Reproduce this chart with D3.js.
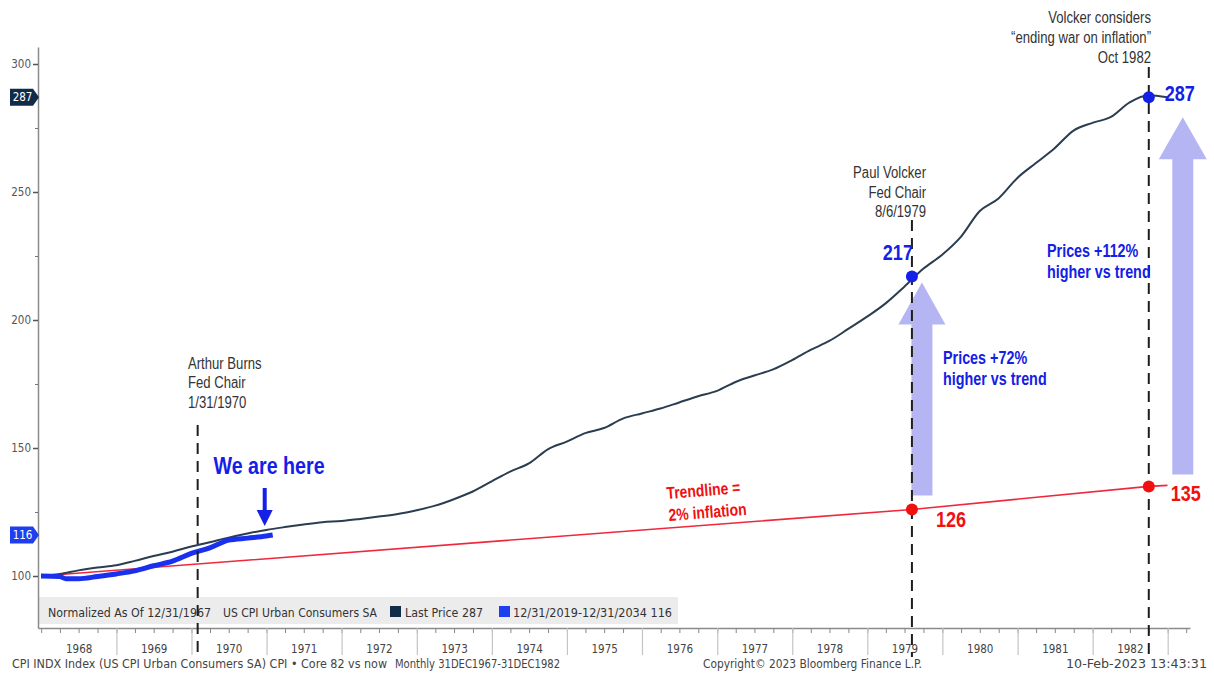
<!DOCTYPE html>
<html>
<head>
<meta charset="utf-8">
<script src="https://cdn.jsdelivr.net/npm/d3@7"></script>
<style>
  html, body { margin: 0; padding: 0; background: #fff; }
  svg { display: block; }
</style>
</head>
<body>
<svg id="chart" width="1214" height="673"></svg>
<script>
// US CPI Urban Consumers SA, normalized to 100 at 12/31/1967 (quarter-end readings)
const cpiDates = [
  "1967-12","1968-03","1968-06","1968-09","1968-12","1969-03","1969-06","1969-09","1969-12",
  "1970-03","1970-06","1970-09","1970-12","1971-03","1971-06","1971-09","1971-12",
  "1972-03","1972-06","1972-09","1972-12","1973-03","1973-06","1973-09","1973-12",
  "1974-03","1974-06","1974-09","1974-12","1975-03","1975-06","1975-09","1975-12",
  "1976-03","1976-06","1976-09","1976-12","1977-03","1977-06","1977-09","1977-12",
  "1978-03","1978-06","1978-09","1978-12","1979-03","1979-06","1979-09","1979-12",
  "1980-03","1980-06","1980-09","1980-12","1981-03","1981-06","1981-09","1981-12",
  "1982-03","1982-06","1982-09","1982-12"
];
const cpiValues = [
  100.0, 100.8, 102.2, 103.3, 104.2, 105.9, 107.8, 109.5, 111.5,
  113.2, 115.0, 116.6, 118.0, 119.1, 120.1, 121.0, 121.5,
  122.3, 123.2, 124.2, 125.7, 127.5, 130.0, 133.0, 137.0,
  140.8, 144.0, 149.5, 152.5, 155.8, 157.8, 161.5, 163.5,
  165.4, 167.8, 170.2, 172.3, 175.8, 178.3, 180.7, 184.3,
  188.3, 191.8, 196.5, 201.3, 206.5, 213.0, 220.0, 225.5,
  232.5, 242.5, 247.5, 255.5, 261.3, 267.1, 274.0, 277.0,
  279.3, 285.0, 287.8, 287.0
];

// Same index 12/31/2019 onward, normalized to 100 at 12/31/2019 (months elapsed)
const recentMonths = [0, 3, 4, 6, 9, 12, 15, 18, 21, 24, 27, 30, 33, 36, 37];
const recentValues = [100, 99.8, 98.9, 98.9, 99.8, 100.8, 102.0, 104.0, 105.8, 108.8, 111.0, 114.0, 114.8, 115.6, 116.0];

// 2% inflation trendline anchors
const trendDates = ["1967-12-31", "1979-08-06", "1982-10-01", "1982-12-31"];
const trendValues = [100, 126, 135, 135.4];

// Marked events
const eventDates = ["1970-01-31", "1979-08-06", "1982-10-01"];
const priceMarkValues = [217, 287];   // CPI at Volcker appointment / Oct 1982
const trendMarkValues = [126, 135];   // trend at the same dates

const yTicks = [100, 150, 200, 250, 300];
const yMinorTicks = [125, 175, 225, 275];
const yearLabels = ["1968","1969","1970","1971","1972","1973","1974","1975",
                    "1976","1977","1978","1979","1980","1981","1982"];

const svg = d3.select("#chart");
const sans = "'Liberation Sans', Arial, sans-serif";
const bbg = "'DejaVu Sans Condensed', 'DejaVu Sans', sans-serif";
const NARROW = 0.82;   // horizontal squeeze for the annotation lettering

const parseMonth = d3.timeParse("%Y-%m");
const parseDay = d3.timeParse("%Y-%m-%d");
const monthEnd = s => d3.timeDay.offset(d3.timeMonth.offset(parseMonth(s), 1), -1);

const plotLeft = 38, plotRight = 1190, plotTop = 47, plotBottom = 628;

const x = d3.scaleTime()
  .domain([new Date(1968, 0, 1), new Date(1983, 0, 1)])
  .range([41.2, 1167.7]);
const y = d3.scaleLinear().domain([100, 300]).range([576, 64]);

const cpi = cpiDates.map((d, i) => ({ date: monthEnd(d), value: cpiValues[i] }));
const base2019 = new Date(1967, 11, 31);
const recent = recentMonths.map((m, i) => ({ date: d3.timeMonth.offset(base2019, m), value: recentValues[i] }));
const trend = trendDates.map((d, i) => ({ date: parseDay(d), value: trendValues[i] }));
const events = eventDates.map(parseDay);

// ---- background layers ----
const bgLayer = svg.append("g");
bgLayer.append("rect").attr("width", 1214).attr("height", 673).attr("fill", "#fff");
const arrowLayer = svg.append("g");

// ---- axes ----
const xa = x.copy().domain([x.invert(plotLeft), x.invert(plotRight)]).range([plotLeft, plotRight]);
const ya = y.copy().domain([y.invert(plotBottom), y.invert(plotTop)]).range([plotBottom, plotTop]);

// legend band
const legendG = svg.append("g");
legendG.append("rect").attr("x", plotLeft).attr("y", 597).attr("width", 640).attr("height", 27).attr("fill", "#ececec");

// y axis
const yAxisG = svg.append("g").attr("transform", `translate(${plotLeft},0)`)
  .call(d3.axisLeft(ya).tickValues(yTicks).tickSize(5).tickSizeOuter(0).tickPadding(2));
yAxisG.select(".domain").attr("stroke", "#8a8a8a").attr("stroke-width", 1.5);
yAxisG.selectAll(".tick line").attr("stroke", "#555").attr("stroke-width", 1.5);
yAxisG.selectAll(".tick text").attr("fill", "#555").style("font", `11.5px ${bbg}`);
svg.append("g").attr("transform", `translate(${plotLeft},0)`)
  .call(d3.axisLeft(ya).tickValues(yMinorTicks).tickSize(3).tickSizeOuter(0).tickFormat(""))
  .call(g => g.select(".domain").remove())
  .selectAll(".tick line").attr("stroke", "#777");

// x axis: quarterly minor ticks, year separators, centered year labels
const xAxisG = svg.append("g").attr("transform", `translate(0,${plotBottom})`);
xAxisG.append("g")
  .call(d3.axisBottom(xa).ticks(d3.timeMonth.every(3)).tickSize(5).tickSizeOuter(0).tickFormat(""))
  .call(g => g.select(".domain").attr("stroke", "#8a8a8a").attr("stroke-width", 1.5))
  .selectAll(".tick line").attr("stroke", "#888");
xAxisG.append("g")
  .call(d3.axisBottom(xa).tickValues(yearLabels.slice(1).map(yy => new Date(+yy, 0, 1)).concat([new Date(1983, 0, 1)]))
    .tickSize(27).tickSizeOuter(0).tickFormat(""))
  .call(g => g.select(".domain").remove())
  .selectAll(".tick line").attr("stroke", "#c4c4c4").attr("stroke-width", 1.2);
xAxisG.append("g")
  .call(d3.axisBottom(xa).tickValues(yearLabels.map(yy => new Date(+yy, 6, 1)))
    .tickSize(0).tickPadding(17).tickFormat(d3.timeFormat("%Y")))
  .call(g => g.select(".domain").remove())
  .selectAll(".tick text").attr("fill", "#444").style("font", `11.5px ${bbg}`);

// ---- series ----
svg.append("path").datum(trend)
  .attr("d", d3.line().x(d => x(d.date)).y(d => y(d.value)))
  .attr("fill", "none").attr("stroke", "#f0283c").attr("stroke-width", 1.6);
svg.append("path").datum(cpi)
  .attr("d", d3.line().x(d => x(d.date)).y(d => y(d.value)).curve(d3.curveMonotoneX))
  .attr("fill", "none").attr("stroke", "#2b3d50").attr("stroke-width", 2);
svg.append("path").datum(recent)
  .attr("d", d3.line().x(d => x(d.date)).y(d => y(d.value)).curve(d3.curveMonotoneX))
  .attr("fill", "none").attr("stroke", "#1a30ef").attr("stroke-width", 5).attr("stroke-linejoin", "round");

// ---- event lines ----
const eventTops = [425, 220, 67];
events.forEach((d, i) => {
  svg.append("line").attr("x1", x(d)).attr("x2", x(d)).attr("y1", eventTops[i]).attr("y2", 657)
    .attr("stroke", "#1e1e1e").attr("stroke-width", 2).attr("stroke-dasharray", "11,7");
});

// ---- gap arrows (price vs trend) ----
function upArrow(cx, yTip, yBottom, shaftW, headW, headH, fill) {
  const p = d3.path();
  p.moveTo(cx - shaftW / 2, yBottom);
  p.lineTo(cx - shaftW / 2, yTip + headH);
  p.lineTo(cx - headW / 2, yTip + headH);
  p.lineTo(cx, yTip);
  p.lineTo(cx + headW / 2, yTip + headH);
  p.lineTo(cx + shaftW / 2, yTip + headH);
  p.lineTo(cx + shaftW / 2, yBottom);
  p.closePath();
  arrowLayer.append("path").attr("d", p.toString()).attr("fill", fill);
}
const lav = "#b5b5f4";
upArrow(x(events[1]) + 10, y(priceMarkValues[0]) + 6, y(trendMarkValues[0]) - 14, 21, 47, 42, lav);
upArrow(x(events[2]) + 34, y(priceMarkValues[1]) + 20, y(trendMarkValues[1]) - 12, 21, 48, 42, lav);

// ---- point markers ----
const blue = "#1420e6", red = "#f01010";
[[events[1], priceMarkValues[0], blue], [events[2], priceMarkValues[1], blue],
 [events[1], trendMarkValues[0], red], [events[2], trendMarkValues[1], red]].forEach(([d, v, c]) => {
  svg.append("circle").attr("cx", x(d)).attr("cy", y(v)).attr("r", 6).attr("fill", c);
});

// condensed annotation text
function label(xp, yp, txt, opts) {
  const g = svg.append("g").attr("transform", `translate(${xp},${yp}) rotate(${opts.rotate || 0}) scale(${NARROW},1)`);
  return g.append("text").attr("x", 0).attr("y", 0).text(txt)
    .attr("text-anchor", opts.anchor || "start")
    .attr("fill", opts.fill || "#333")
    .style("font-family", sans)
    .style("font-size", opts.size + "px")
    .style("font-weight", opts.weight || "normal");
}

// value labels
label(x(events[1]) + 1, y(priceMarkValues[0]) - 16, String(priceMarkValues[0]), { anchor: "end", fill: blue, size: 22, weight: "bold" });
label(x(events[2]) + 16, y(priceMarkValues[1]) + 4, String(priceMarkValues[1]), { fill: blue, size: 22, weight: "bold" });
label(x(events[1]) + 24, y(trendMarkValues[0]) + 18, String(trendMarkValues[0]), { fill: red, size: 22, weight: "bold" });
label(x(events[2]) + 22, y(trendMarkValues[1]) + 15, String(trendMarkValues[1]), { fill: red, size: 22, weight: "bold" });

// event captions
[["Arthur Burns", 369], ["Fed Chair", 388], ["1/31/1970", 408]].forEach(([t, b]) => label(188, b, t, { size: 16 }));
[["Paul Volcker", 178], ["Fed Chair", 198], ["8/6/1979", 217]].forEach(([t, b]) => label(926, b, t, { size: 16, anchor: "end" }));
[["Volcker considers", 23], ["\u201cending war on inflation\u201d", 43], ["Oct 1982", 63]].forEach(([t, b]) => label(1151, b, t, { size: 16, anchor: "end" }));

// gap captions
label(1047, 257, "Prices +112%", { fill: blue, size: 17.5, weight: "bold" });
label(1047, 278, "higher vs trend", { fill: blue, size: 17.5, weight: "bold" });
label(943, 364, "Prices +72%", { fill: blue, size: 17.5, weight: "bold" });
label(943, 385, "higher vs trend", { fill: blue, size: 17.5, weight: "bold" });

// trendline caption along the slope
label(667, 499, "Trendline =", { fill: red, size: 17, weight: "bold", rotate: -4.6 });
label(669, 521, "2% inflation", { fill: red, size: 17, weight: "bold", rotate: -4.6 });

// "We are here" pointer at the latest reading
const lastRecent = recent[recent.length - 1];
const ax = x(lastRecent.date) - 8;
label(269, 474, "We are here", { anchor: "middle", fill: blue, size: 24, weight: "bold" });
svg.append("rect").attr("x", ax - 2).attr("y", 488).attr("width", 4).attr("height", 24).attr("fill", blue);
svg.append("path").attr("d", `M${ax - 8},510 L${ax + 8},510 L${ax},526 Z`).attr("fill", blue);

// y-axis last value tags
function tag(v, fill) {
  const yc = y(v);
  svg.append("path").attr("d", `M10,${yc - 8.5} H33 L39,${yc} L33,${yc + 8.5} H10 Z`).attr("fill", fill);
  svg.append("text").attr("x", 22.5).attr("y", yc + 4).attr("text-anchor", "middle").text(String(v))
    .attr("fill", "#fff").style("font", `11.5px ${bbg}`);
}
tag(cpiValues[cpiValues.length - 1], "#102c48");
tag(recentValues[recentValues.length - 1], "#1f3ef0");

// legend contents
const lt = (xp, t, w) => legendG.append("text").attr("x", xp).attr("y", 617).text(t)
  .attr("textLength", w).attr("lengthAdjust", "spacingAndGlyphs")
  .attr("fill", "#333").style("font", `12px ${bbg}`);
lt(48, "Normalized As Of 12/31/1967", 163);
lt(223, "US CPI Urban Consumers SA", 154);
legendG.append("rect").attr("x", 390).attr("y", 606).attr("width", 11).attr("height", 11).attr("fill", "#102c48");
lt(405, "Last Price " + cpiValues[cpiValues.length - 1], 78);
legendG.append("rect").attr("x", 499).attr("y", 606).attr("width", 11).attr("height", 11).attr("fill", "#1f3ef0");
lt(513, "12/31/2019-12/31/2034 " + recentValues[recentValues.length - 1], 159);

// footer
const ft = (xp, t, w) => svg.append("text").attr("x", xp).attr("y", 668).text(t)
  .attr("textLength", w).attr("lengthAdjust", "spacingAndGlyphs")
  .attr("fill", "#444").style("font", `12px ${bbg}`);
ft(12, "CPI INDX Index (US CPI Urban Consumers SA) CPI \u2022 Core 82 vs now", 375);
ft(395, "Monthly 31DEC1967-31DEC1982", 165);
ft(703, "Copyright\u00a9 2023 Bloomberg Finance L.P.", 219);
ft(1066, "10-Feb-2023 13:43:31", 141);
</script>
</body>
</html>
